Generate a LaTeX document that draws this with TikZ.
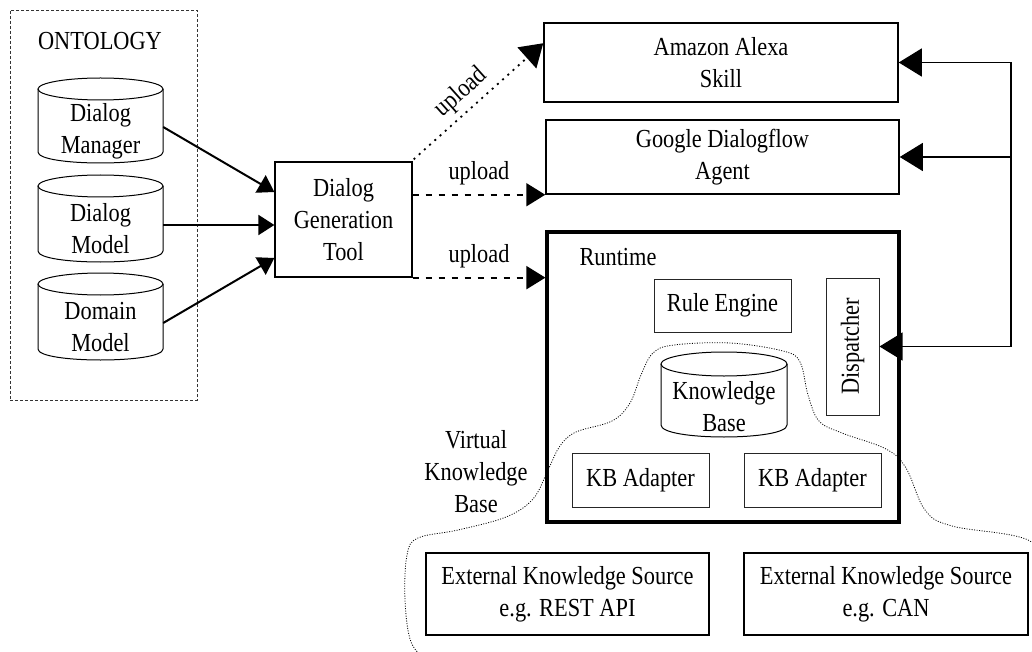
\documentclass[tikz,border=0pt]{standalone}
\usepackage{fontspec}
\setmainfont{Liberation Serif}[FakeStretch=0.86]
\usetikzlibrary{arrows.meta,calc}
\newcommand\cylout[5]{% L R T B e
  \draw[cylline] (#1,#3+#5) -- (#1,#4-#5) .. controls (#1,#4+#5/3) and (#2,#4+#5/3) .. (#2,#4-#5) -- (#2,#3+#5);
  \draw[cylline] ({(#1+#2)/2},#3+#5) ellipse[x radius={(#2-#1)/2}, y radius=#5];}
\begin{document}
\begin{tikzpicture}[x=1pt,y=-1pt,font=\fontsize{26}{32}\selectfont,
  box/.style={draw, line width=1.5pt, align=center, inner sep=0pt},
  thinbox/.style={draw=black!85, line width=1pt, align=center, inner sep=0pt},
  runbox/.style={draw, line width=3.2pt, inner sep=0pt},
  ontobox/.style={draw=black!80, line width=0.8pt, dash pattern=on 3pt off 2pt, inner sep=0pt},
  cylline/.style={line width=1pt},
  cyltext/.style={align=center, inner sep=0pt, minimum width=125pt},
  inarrow/.style={line width=2pt, -{Triangle[length=16pt,width=20pt]}},
  upl/.style={line width=2pt, dash pattern=on 6.5pt off 6.5pt, -{Triangle[length=19pt,width=23pt]}},
  upldiag/.style={line width=1.8pt, dash pattern=on 2pt off 5pt, -{Triangle[length=22pt,width=28pt]}},
  fb/.style={line width=1.1pt},
  fbarrow/.style={line width=1.1pt, -{Triangle[length=23pt,width=28pt]}},
  cloud/.style={line width=0.8pt, dash pattern=on 1pt off 1.5pt},
  lbl/.style={align=center, inner sep=0pt}
]
\useasboundingbox (0,0) rectangle (1032,652);
\fill[white] (0,0) rectangle (1032,652);

% Ontology group
\node[ontobox, minimum width=187pt, minimum height=390pt] (onto) at (103.5,205) {};
\node[lbl] (ontolbl) at (100,41) {ONTOLOGY};

\cylout{38}{163}{78}{163}{11}
\cylout{38}{163}{175}{262}{11}
\cylout{38}{163}{273}{360}{11}
\node[cyltext] (dmgr) at (100.5,131) {Dialog\\Manager};
\node[cyltext] (dmod) at (100.5,229) {Dialog\\Model};
\node[cyltext] (domm) at (100.5,327) {Domain\\Model};

% Dialog Generation Tool
\node[box, line width=1.3pt, minimum width=137pt, minimum height=115pt] (dgt) at (343.5,219.5) {Dialog\\Generation\\Tool};

\draw[inarrow] ($(dmgr.east)+(0,-4)$) -- ($(dgt.west)+(0,-27.5)$);
\draw[inarrow] ($(dmod.east)+(0,-4)$) -- ($(dgt.west)+(0,5.5)$);
\draw[inarrow] ($(domm.east)+(0,-4)$) -- ($(dgt.west)+(0,38.5)$);

% Targets
\node[box, minimum width=354pt, minimum height=79pt] (alexa) at (721,62.5) {Amazon Alexa\\Skill};
\node[box, minimum width=353pt, minimum height=74pt] (google) at (722.5,157) {Google Dialogflow\\Agent};
\node[runbox, minimum width=352pt, minimum height=290pt] (runtime) at (723,377) {};
\node[lbl] (runlbl) at (618,257) {Runtime};

\node[thinbox, minimum width=137pt, minimum height=53pt] (rule) at (722.5,305.5) {Rule Engine};
\node[thinbox, minimum width=53pt, minimum height=137pt] (disp) at (852.5,346.5) {};
\node[lbl, rotate=90] (displbl) at (disp.center) {Dispatcher};

\cylout{661}{787}{352}{437}{12}
\node[cyltext, minimum width=126pt] (kb) at (724,407) {Knowledge\\Base};

\node[thinbox, minimum width=137pt, minimum height=54pt] (kba1) at (640.5,480) {KB Adapter};
\node[thinbox, minimum width=137pt, minimum height=54pt] (kba2) at (812.5,480) {KB Adapter};

\node[box, minimum width=283pt, minimum height=82pt] (ext1) at (567.5,594) {External Knowledge Source\\e.g. REST API};
\node[box, minimum width=284pt, minimum height=82pt] (ext2) at (886,594) {External Knowledge Source\\e.g. CAN};

\node[lbl] (vkb) at (476,472) {Virtual\\Knowledge\\Base};

% upload connectors
\draw[upldiag] ($(dgt.north east)+(1,-2)$) -- node[sloped, above=5pt, pos=0.46, lbl]{upload} ($(alexa.north west)+(0,21)$);
\draw[upl] (dgt.east |- google.south west) -- node[above=9pt, lbl]{upload} (google.south west);
\draw[upl] (dgt.south east) -- node[above=9pt, lbl]{upload} (dgt.south east -| runtime.west);

% feedback bus
\coordinate (bus) at (1011,62.5);
\draw[fb] (alexa.east -| bus) -- (disp.east -| bus);
\draw[fbarrow] (alexa.east -| bus) -- (alexa.east);
\draw[fbarrow] (google.east -| bus) -- (google.east);
\draw[fbarrow] (disp.east -| bus) -- (disp.east);

% virtual knowledge base cloud
\begin{scope}
\clip (0,0) rectangle (1032,652);
\draw[cloud] plot[smooth, tension=0.6] coordinates {
 (428,662) (411,642) (405,600) (407,555) (418,538) (458,530) (506,517) (533,499)
 (548,470) (560,446) (576,432) (612,421) (630,403) (641,375) (653,353) (674,345)
 (730,343) (783,351) (800,362) (808,395) (819,421) (842,433) (886,449) (906,468)
 (925,510) (952,526) (1030,541) (1045,580) (1040,640) (1020,660)};
\end{scope}
\end{tikzpicture}
\end{document}
